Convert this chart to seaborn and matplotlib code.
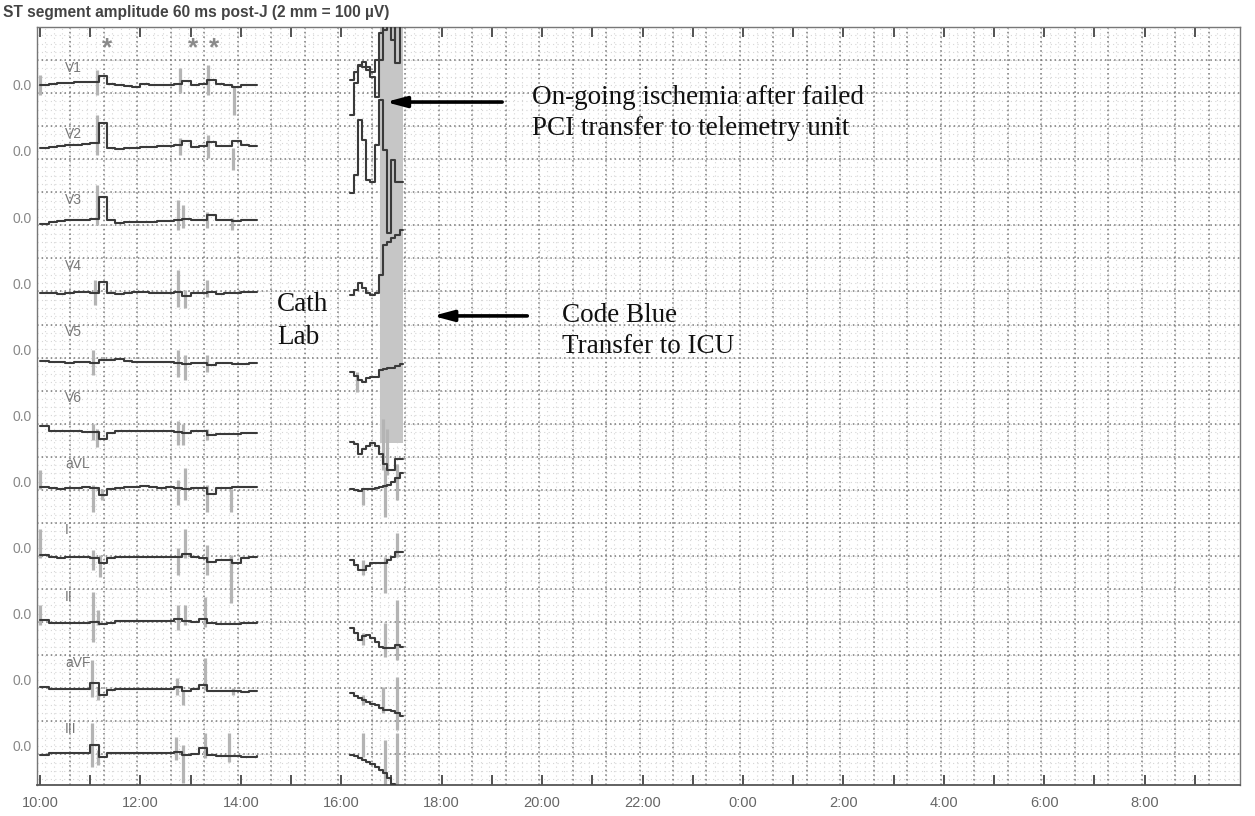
import numpy as np
import pandas as pd
import matplotlib.pyplot as plt
import seaborn as sns


# ST trend chart, 11 leads, time in hours after 10:00
leads = ['V1', 'V2', 'V3', 'V4', 'V5', 'V6', 'aVL', 'I', 'II', 'aVF', 'III']
tick_labels = ['10:00', '12:00', '14:00', '16:00', '18:00', '20:00',
               '22:00', '0:00', '2:00', '4:00', '6:00', '8:00']

# first recording block 10:00 - 14:20 (10 min steps)
t_left = [0.0, 0.17, 0.33, 0.5, 0.67, 0.83, 1.0, 1.17, 1.33, 1.5, 1.67, 1.83, 2.0,
          2.17, 2.33, 2.5, 2.67, 2.83, 3.0, 3.17, 3.33, 3.5, 3.67, 3.83, 4.0, 4.17, 4.33]
# second block after cath lab 16:10 - 17:14 (5 min steps)
t_right = [6.17, 6.25, 6.33, 6.42, 6.5, 6.58, 6.67, 6.75, 6.83, 6.92, 7.0, 7.08, 7.17, 7.23]

# ST level, in grid squares relative to the lead's 0.0 line
V1_left = [0.0, 0.03, 0.05, 0.05, 0.08, 0.08, 0.1, 0.27, 0.03, 0.0, -0.03, -0.05, 0.03, 0.0,
           0.0, 0.0, 0.03, 0.12, 0.0, 0.03, 0.15, 0.03, 0.0, -0.06, 0.0, 0.0, 0.0]
V2_left = [0.09, 0.12, 0.15, 0.18, 0.18, 0.21, 0.24, 0.85, 0.09, 0.06, 0.09, 0.09, 0.12, 0.12,
           0.15, 0.15, 0.18, 0.3, 0.12, 0.15, 0.27, 0.15, 0.15, 0.3, 0.18, 0.15, 0.15]
V3_left = [-0.2, -0.15, -0.12, -0.1, -0.1, -0.08, -0.06, 0.6, -0.1, -0.18, -0.15, -0.15, -0.15,
           -0.15, -0.12, -0.12, -0.08, -0.05, -0.1, -0.08, 0.05, -0.08, -0.1, -0.12, -0.08, -0.08, -0.08]
V4_left = [-0.3, -0.3, -0.33, -0.3, -0.28, -0.28, -0.3, 0.03, -0.3, -0.33, -0.3, -0.28, -0.28,
           -0.3, -0.3, -0.3, -0.28, -0.38, -0.3, -0.3, -0.28, -0.33, -0.3, -0.3, -0.28, -0.28, -0.28]
V5_left = [-0.36, -0.39, -0.39, -0.42, -0.39, -0.39, -0.42, -0.33, -0.33, -0.3, -0.36, -0.39, -0.39,
           -0.39, -0.39, -0.39, -0.42, -0.45, -0.42, -0.42, -0.48, -0.42, -0.42, -0.45, -0.45, -0.42, -0.42]
V6_left = [-0.33, -0.48, -0.48, -0.48, -0.48, -0.5, -0.5, -0.7, -0.52, -0.48, -0.48, -0.48, -0.48,
           -0.48, -0.48, -0.48, -0.5, -0.52, -0.48, -0.48, -0.58, -0.55, -0.55, -0.55, -0.52, -0.52, -0.52]
aVL_left = [-0.18, -0.21, -0.24, -0.21, -0.21, -0.18, -0.21, -0.4, -0.24, -0.21, -0.18, -0.18, -0.15,
            -0.18, -0.21, -0.18, -0.21, -0.24, -0.21, -0.21, -0.39, -0.21, -0.2, -0.18, -0.18, -0.18, -0.18]
I_left = [-0.21, -0.27, -0.3, -0.27, -0.27, -0.27, -0.3, -0.45, -0.3, -0.27, -0.27, -0.27, -0.27,
          -0.27, -0.27, -0.27, -0.27, -0.2, -0.27, -0.3, -0.42, -0.36, -0.36, -0.45, -0.3, -0.27, -0.27]
II_left = [-0.2, -0.27, -0.27, -0.27, -0.27, -0.27, -0.24, -0.3, -0.27, -0.21, -0.21, -0.21, -0.21,
           -0.21, -0.21, -0.21, -0.15, -0.21, -0.24, -0.15, -0.27, -0.3, -0.3, -0.3, -0.27, -0.27, -0.24]
aVF_left = [-0.21, -0.27, -0.27, -0.27, -0.27, -0.27, -0.1, -0.45, -0.3, -0.27, -0.27, -0.27, -0.27,
            -0.27, -0.27, -0.27, -0.21, -0.33, -0.27, -0.15, -0.33, -0.33, -0.33, -0.33, -0.36, -0.33, -0.33]
III_left = [-0.27, -0.21, -0.21, -0.21, -0.21, -0.21, 0.03, -0.33, -0.21, -0.21, -0.21, -0.21, -0.21,
            -0.21, -0.21, -0.21, -0.18, -0.27, -0.24, -0.06, -0.27, -0.3, -0.3, -0.3, -0.33, -0.33, -0.3]

V1_right = [0.15, 0.39, 0.58, 0.55, 0.55, 0.39, 0.76, 1.58, 2.0, 2.0, 2.0, 0.67, 2.0, 2.0]
V2_right = [1.09, 2.06, 2.61, 2.7, 2.45, 2.24, 1.64, 2.76, 3.67, 4.0, 3.36, 4.0, 4.0, 4.0]
V3_right = [0.73, 1.27, 2.94, 2.33, 1.12, 1.06, 2.18, 3.55, 2.03, -0.48, 1.73, 1.06, 1.06, 1.06]
V4_right = [-0.36, -0.21, 0.0, -0.15, -0.3, -0.36, -0.3, 0.24, 1.15, 1.24, 1.36, 1.45, 1.61, 1.61]
V5_right = [-0.7, -0.82, -0.94, -1.0, -0.88, -0.85, -0.85, -0.64, -0.61, -0.58, -0.58, -0.52, -0.45, -0.45]
V6_right = [-0.79, -0.85, -1.18, -1.03, -0.91, -0.82, -0.91, -1.18, -1.48, -1.64, -1.64, -1.33, -1.33, -1.33]
aVL_right = [-0.24, -0.27, -0.3, -0.24, -0.24, -0.24, -0.21, -0.18, -0.15, -0.09, 0.0, 0.12, 0.27, 0.27]
I_right = [-0.36, -0.52, -0.67, -0.67, -0.55, -0.45, -0.45, -0.45, -0.45, -0.36, -0.27, -0.12, -0.12, -0.12]
II_right = [-0.42, -0.58, -0.79, -0.67, -0.64, -0.73, -0.85, -1.0, -1.03, -1.03, -1.03, -0.94, -1.0, -1.0]
aVF_right = [-0.39, -0.48, -0.55, -0.61, -0.67, -0.73, -0.76, -0.85, -0.91, -0.91, -0.94, -1.0, -1.09, -1.09]
III_right = [-0.27, -0.3, -0.36, -0.42, -0.48, -0.55, -0.64, -0.73, -0.82, -0.97, -1.15, -1.21, -1.21, -1.21]

# min/max range bars (time, high, low)
V1_spikes = [(0.0, 0.3, -0.3), (1.14, 0.45, -0.3), (2.79, 0.52, -0.24), (3.35, 0.6, -0.3), (3.86, -0.03, -0.9)]
V2_spikes = [(1.14, 1.09, -0.12), (2.79, 0.39, -0.12), (3.35, 0.48, -0.21), (3.84, 0.09, -0.58)]
V3_spikes = [(1.14, 0.97, -0.24), (2.75, 0.52, -0.39), (2.85, 0.36, -0.33), (3.33, 0.15, -0.33), (3.82, -0.03, -0.39)]
V4_spikes = [(1.1, 0.09, -0.67), (2.75, 0.39, -0.73), (2.89, -0.21, -0.76), (3.33, 0.09, -0.42)]
V5_spikes = [(1.06, -0.03, -0.79), (2.75, -0.03, -0.85), (2.89, -0.18, -0.94), (3.33, -0.18, -0.7),
             (6.31, -0.7, -1.3)]
V6_spikes = [(1.06, -0.27, -0.73), (1.14, -0.42, -0.97), (2.75, -0.18, -0.88), (2.85, -0.27, -0.88),
             (3.33, -0.42, -0.73), (6.83, -0.12, -1.64), (6.91, -0.42, -1.79)]
aVL_spikes = [(0.0, 0.36, -0.24), (1.06, -0.09, -0.91), (1.24, -0.24, -0.55), (2.75, 0.06, -0.7),
              (2.89, 0.42, -0.55), (3.33, -0.09, -0.91), (3.8, -0.24, -0.91),
              (6.43, -0.24, -0.7), (6.87, 0.45, -1.06), (7.11, 0.52, -0.55)]
I_spikes = [(0.0, 0.55, -0.3), (1.06, -0.06, -0.67), (1.2, -0.21, -0.88), (2.75, 0.0, -0.82),
            (2.89, 0.55, -0.3), (3.33, 0.09, -0.82), (3.8, -0.21, -1.67),
            (6.43, -0.36, -0.82), (6.87, -0.27, -1.36), (7.11, 0.45, -0.27)]
II_spikes = [(0.0, 0.27, -0.33), (1.06, 0.67, -0.85), (1.16, 0.12, -0.33), (2.75, 0.27, -0.48),
             (2.89, 0.27, -0.33), (3.29, 0.52, -0.39),
             (6.43, -0.58, -0.94), (6.87, -0.27, -1.3), (7.11, 0.42, -1.39)]
aVF_spikes = [(1.04, 0.61, -0.52), (1.16, -0.24, -0.61), (2.73, 0.06, -0.45), (2.85, -0.3, -0.76),
              (3.29, 0.67, -0.3), (3.84, -0.24, -0.45),
              (6.43, -0.45, -0.76), (6.83, -0.21, -1.0), (7.11, 0.09, -1.52)]
III_spikes = [(1.04, 0.7, -0.64), (1.16, -0.12, -0.58), (2.71, 0.27, -0.42), (2.85, 0.03, -1.12),
              (3.29, 0.39, -0.36), (3.76, 0.39, -0.48),
              (6.43, 0.39, -0.33), (6.87, 0.18, -1.24), (7.11, 0.39, -1.24)]

# saturated grey band at the end of the second block
band_t = [6.77, 7.23]
band_low = -10.83

left_vals = {'V1': V1_left, 'V2': V2_left, 'V3': V3_left, 'V4': V4_left, 'V5': V5_left,
             'V6': V6_left, 'aVL': aVL_left, 'I': I_left, 'II': II_left, 'aVF': aVF_left,
             'III': III_left}
right_vals = {'V1': V1_right, 'V2': V2_right, 'V3': V3_right, 'V4': V4_right, 'V5': V5_right,
              'V6': V6_right, 'aVL': aVL_right, 'I': I_right, 'II': II_right, 'aVF': aVF_right,
              'III': III_right}
spikes = {'V1': V1_spikes, 'V2': V2_spikes, 'V3': V3_spikes, 'V4': V4_spikes, 'V5': V5_spikes,
          'V6': V6_spikes, 'aVL': aVL_spikes, 'I': I_spikes, 'II': II_spikes, 'aVF': aVF_spikes,
          'III': III_spikes}

rows = []
for i, lead in enumerate(leads):
    for seg, times, vals in (('a', t_left, left_vals[lead]), ('b', t_right, right_vals[lead])):
        for t, v in zip(times, vals):
            rows.append((lead + seg, t, -2 * i + v))
trend = pd.DataFrame(rows, columns=['key', 't', 'y'])

sp = []
for i, lead in enumerate(leads):
    for t, hi, lo in spikes[lead]:
        sp.append((t, -2 * i + hi, -2 * i + lo))
sp = pd.DataFrame(sp, columns=['t', 'hi', 'lo'])


sns.set_style('white')
plt.rcParams['font.family'] = ['Liberation Sans', 'DejaVu Sans']

fig, ax = plt.subplots(figsize=(12.55, 8.16), dpi=100)
fig.subplots_adjust(left=37/1255, right=1240/1255, top=1-27/816, bottom=1-785/816)

x0, x1 = -0.06, 23.9
y0, y1 = -21.18, 1.75
ax.set_xlim(x0, x1)
ax.set_ylim(y0, y1)

# paper grid: light fine dots + darker dots every 40 min / half row
for gx in np.arange(x0, x1, 2/3/4):
    ax.axvline(gx, color='#d6d6d6', lw=0.8, ls=(0, (1, 3)), zorder=0)
for gy in np.arange(y1, y0, -0.25):
    ax.axhline(gy, color='#d6d6d6', lw=0.8, ls=(0, (1, 3)), zorder=0)
for gx in np.arange(x0, x1, 2/3):
    ax.axvline(gx, color='#7a7a7a', lw=1.1, ls=(0, (1, 2)), zorder=0.5)
for gy in np.arange(y1, y0, -1):
    ax.axhline(gy, color='#7a7a7a', lw=1.1, ls=(0, (1, 2)), zorder=0.5)

ax.fill_between(band_t, band_low, y1 + 1, color='#c6c6c6', lw=0, zorder=1)
ax.vlines(sp['t'], sp['lo'], sp['hi'], color='#b4b4b4', lw=2.3, zorder=1.5)

sns.lineplot(data=trend, x='t', y='y', units='key', estimator=None, sort=False,
             drawstyle='steps-post', color='#3a3a3a', lw=1.5, legend=False, ax=ax, zorder=3)

for i, lead in enumerate(leads):
    ax.text(0.5, -2 * i + 0.52, lead, color='#777777', fontsize=10, va='center', ha='left')

for t in [1.33, 3.05, 3.47]:
    ax.text(t, 1.12, '*', color='#8a8a8a', fontsize=19, fontweight='bold', ha='center', va='center')

# annotations
serif = ['Liberation Serif', 'DejaVu Serif']
ax.annotate('', xy=(6.83, -0.52), xytext=(9.26, -0.52),
            arrowprops=dict(arrowstyle='-|>,head_length=1.2,head_width=0.32', color='black', lw=2.6))
ax.text(9.80, -0.85, 'On-going ischemia after failed\nPCI transfer to telemetry unit',
        family=serif, fontsize=19.5, va='center', ha='left', linespacing=1.3, color='#111111')
ax.annotate('', xy=(7.77, -6.99), xytext=(9.76, -6.99),
            arrowprops=dict(arrowstyle='-|>,head_length=1.2,head_width=0.32', color='black', lw=2.6))
ax.text(10.4, -7.45, 'Code Blue\nTransfer to ICU',
        family=serif, fontsize=19.5, va='center', ha='left', linespacing=1.35, color='#111111')
ax.text(4.72, -7.15, 'Cath\nLab', family=serif, fontsize=19.5, va='center', ha='left',
        linespacing=1.45, color='#111111')

ax.set_xticks(range(0, 24, 2))
ax.set_xticklabels(tick_labels)
ax.set_xticks(range(1, 24, 2), minor=True)
ax.tick_params(axis='x', which='both', direction='in', top=True, bottom=True,
               length=7, width=1.3, color='#444444', labelcolor='#666666', labelsize=10.5, pad=8)
ax.set_yticks([-2 * i for i in range(len(leads))])
ax.set_yticklabels(['0.0'] * len(leads))
ax.tick_params(axis='y', length=0, labelcolor='#888888', labelsize=10, pad=4)
ax.set_xlabel('')
ax.set_ylabel('')
for s in ax.spines.values():
    s.set_color('#777777')
    s.set_linewidth(1.0)
ax.spines['bottom'].set_color('#555555')
ax.spines['bottom'].set_linewidth(1.3)

fig.text(3/1255, 1-12/816, 'ST segment amplitude 60 ms post-J (2 mm = 100 µV)',
         fontsize=11.2, fontweight='bold', color='#444444', va='center', ha='left')

plt.savefig('out.png', dpi=100)
